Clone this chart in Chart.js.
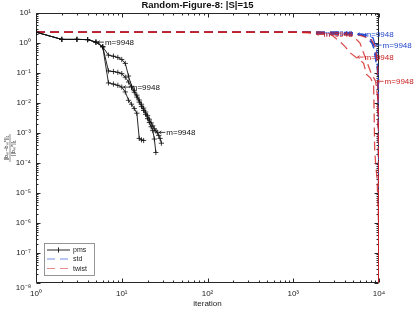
<!DOCTYPE html>
<html><head><meta charset="utf-8">
<script src="https://cdn.jsdelivr.net/npm/chart.js@4/dist/chart.umd.min.js"></script>
<style>html,body{margin:0;padding:0;background:#fff}canvas{display:block}</style>
</head><body>
<canvas id="c" width="415" height="309"></canvas>
<script>
const titleText = 'Random-Figure-8: |S|=15';
const xTitle = 'iteration';
const seriesNames = ['pms', 'std', 'twist'];
const xTickValues = [1, 10, 100, 1000, 10000];
const xTickLabels = ['10⁰', '10¹', '10²', '10³', '10⁴'];
const yTickValues = [1e-8, 1e-7, 1e-6, 1e-5, 1e-4, 1e-3, 1e-2, 1e-1, 1, 10];
const yTickLabels = ['10⁻⁸', '10⁻⁷', '10⁻⁶', '10⁻⁵', '10⁻⁴', '10⁻³', '10⁻²', '10⁻¹', '10⁰', '10¹'];

// pms runs (iteration 1..n)
const pmsIter = [1,2,3,4,5,6,7,8,9,10,11,12,13,14,15,16,17,18,19,20,21,22,23,24,25,26,27,28,29];
const pmsRunA = [2.3,1.32,1.32,1.3,1.07,0.75,0.394,0.363,0.331,0.282,0.209,0.0794,0.0363,0.0263,0.0182,0.0126,0.00912,0.00676,0.00501,0.0038,0.00288,0.00219,0.00174,0.00138,0.00117,0.00105,0.00083,0.00066,0.000457];
const pmsRunB = [2.3,1.32,1.32,1.3,1.07,0.75,0.117,0.112,0.105,0.0955,0.0724,0.0501,0.0339,0.0229,0.0158,0.0107,0.00759,0.00562,0.00417,0.00302,0.00224,0.00162,0.0012,0.00063,0.000224];
const pmsRunC = [2.3,1.32,1.32,1.3,1.07,0.75,0.0468,0.0427,0.0389,0.0339,0.0234,0.0123,0.00912,0.0066,0.00457,0.00066,0.000589,0.000562];

// std runs
const stdIterA = [1,10,100,1000,2000,3000,4000,5000,5330,6610,7400,8300,8650,9370,9630,9890,9948];
const stdRunA  = [2.3,2.3,2.3,2.3,2.3,2.3,2.28,2.2,2.0,1.75,1.45,0.95,0.68,0.18,0.14,0.01,1e-9];
const stdIterB = [1,10,100,1000,1500,1770,2500,4000,6000,7000,8000,8650,9300,9700,9890,9948];
const stdRunB  = [2.3,2.3,2.3,2.3,2.3,2.14,2.1,2.05,1.95,1.8,1.3,0.85,0.3,0.08,0.001,1e-9];
const stdIterC = [1,10,100,1000,3000,5000,7000,8500,9400,9800,9948];
const stdRunC  = [2.3,2.3,2.3,2.3,2.3,2.1,1.9,1.5,0.6,0.05,1e-9];

// twist runs
const twistIterA = [1,10,100,1000,2000,2700,3560,4075,4660,5330,6000,6610,7165,7980,8650,8800,8900,9125,9500,9890,9948];
const twistRunA  = [2.3,2.3,2.3,2.3,2.28,2.0,1.07,0.73,0.46,0.34,0.27,0.21,0.09,0.068,0.04,0.003,0.0003,0.0001,0.00003,0.000001,1e-9];
const twistIterB = [1,10,100,1000,2000,3000,4000,5000,6000,7000,7980,8650,9125,9630,9890,9948];
const twistRunB  = [2.3,2.3,2.3,2.3,2.3,2.25,2.1,1.7,1.0,0.3,0.11,0.07,0.053,0.016,0.0001,1e-9];
const twistIterC = [1,10,100,1000,1500,1770,2500,4000,6000,8000,9000,9600,9890,9948];
const twistRunC  = [2.3,2.3,2.3,2.3,2.2,1.99,1.95,1.9,1.8,1.4,0.8,0.2,0.001,1e-9];

// "m=9948" annotations, anchored at data points
const annText = 'm=9948';
const pmsAnnX = [5, 10, 26];
const pmsAnnY = [1.07, 0.0339, 0.00105];
const stdAnnX = [1770, 5330, 8650];
const stdAnnY = [2.14, 1.98, 0.85];
const twistAnnX = [1770, 5330, 9125];
const twistAnnY = [1.99, 0.34, 0.053];

const FONT = "'Liberation Sans', Arial, Helvetica, sans-serif";
const pmsColor = '#111111';
const stdColor = '#2a52d6';
const twistColor = 'rgba(212,30,30,0.78)';
const stdText = '#2448c8';
const twistText = '#c81e1e';

function pts(xs, ys) { return xs.map((v, i) => ({x: v, y: ys[i]})); }

const pmsStyle = {borderColor: pmsColor, backgroundColor: pmsColor, borderWidth: 0.9, pointStyle: 'cross',
  pointRadius: 2.6, pointBorderWidth: 0.8, pointHoverRadius: 0, order: 0, tension: 0};
const stdStyle = {borderColor: stdColor, borderWidth: 1.3, borderDash: [9, 5], pointRadius: 0, order: 2, tension: 0};
const twistStyle = {borderColor: twistColor, borderWidth: 1.3, borderDash: [9, 5], pointRadius: 0, order: 1, tension: 0};

const datasets = [
  Object.assign({label: seriesNames[0], data: pts(pmsIter, pmsRunA)}, pmsStyle),
  Object.assign({label: seriesNames[0], data: pts(pmsIter, pmsRunB)}, pmsStyle),
  Object.assign({label: seriesNames[0], data: pts(pmsIter, pmsRunC)}, pmsStyle),
  Object.assign({label: seriesNames[1], data: pts(stdIterA, stdRunA)}, stdStyle),
  Object.assign({label: seriesNames[1], data: pts(stdIterB, stdRunB)}, stdStyle),
  Object.assign({label: seriesNames[1], data: pts(stdIterC, stdRunC)}, stdStyle),
  Object.assign({label: seriesNames[2], data: pts(twistIterA, twistRunA)}, twistStyle),
  Object.assign({label: seriesNames[2], data: pts(twistIterB, twistRunB)}, twistStyle),
  Object.assign({label: seriesNames[2], data: pts(twistIterC, twistRunC)}, twistStyle),
];

function logList(min, max) {
  const out = [];
  for (let e = Math.floor(Math.log10(min)) - 1; e <= Math.ceil(Math.log10(max)); e++) {
    for (let m = 1; m < 10; m++) {
      const v = m * Math.pow(10, e);
      if (v >= min * 0.9999 && v <= max * 1.0001) out.push({v: v, major: m === 1});
    }
  }
  return out;
}

const framePlugin = {
  id: 'frame',
  beforeDatasetsDraw(chart) {
    const {ctx, chartArea: a, scales: {x, y}} = chart;
    ctx.save();
    ctx.strokeStyle = '#262626';
    ctx.lineWidth = 1;
    const L = Math.round(a.left) + 0.5, R = Math.round(a.right) - 0.5;
    const T = Math.round(a.top) + 0.5, B = Math.round(a.bottom) - 0.5;
    ctx.beginPath();
    ctx.rect(L, T, R - L, B - T);
    ctx.stroke();
    ctx.beginPath();
    for (const t of logList(x.min, x.max)) {
      const px = Math.round(x.getPixelForValue(t.v)) + 0.5;
      const len = t.major ? 4 : 2;
      ctx.moveTo(px, B); ctx.lineTo(px, B - len);
      ctx.moveTo(px, T); ctx.lineTo(px, T + len);
    }
    for (const t of logList(y.min, y.max)) {
      const py = Math.round(y.getPixelForValue(t.v)) + 0.5;
      const len = t.major ? 4 : 2;
      ctx.moveTo(L, py); ctx.lineTo(L + len, py);
      ctx.moveTo(R, py); ctx.lineTo(R - len, py);
    }
    ctx.stroke();
    ctx.restore();
  },
  afterDatasetsDraw(chart) {
    const {ctx, chartArea: a, scales: {x, y}} = chart;
    ctx.save();
    // annotations
    ctx.font = '8px ' + FONT;
    ctx.textBaseline = 'middle';
    ctx.textAlign = 'left';
    const groups = [[pmsAnnX, pmsAnnY, pmsColor], [stdAnnX, stdAnnY, stdText], [twistAnnX, twistAnnY, twistText]];
    for (const [xs, ys, col] of groups) {
      ctx.strokeStyle = col; ctx.fillStyle = col; ctx.lineWidth = 0.8;
      xs.forEach((xv, i) => {
        const px = x.getPixelForValue(xv), py = y.getPixelForValue(ys[i]);
        ctx.beginPath();
        ctx.moveTo(px + 2, py); ctx.lineTo(px + 8, py);
        ctx.moveTo(px + 2, py); ctx.lineTo(px + 4, py - 1.5);
        ctx.moveTo(px + 2, py); ctx.lineTo(px + 4, py + 1.5);
        ctx.stroke();
        ctx.fillText(annText, px + 9, py + 0.5);
      });
    }

    // legend
    const lx = a.left + 8, lb = a.bottom - 8, lw = 50, lh = 32, ly = lb - lh;
    ctx.fillStyle = '#fff';
    ctx.fillRect(lx, ly, lw, lh);
    ctx.strokeStyle = '#7a7a7a'; ctx.lineWidth = 0.8;
    ctx.strokeRect(Math.round(lx) + 0.5, Math.round(ly) + 0.5, lw, lh);
    ctx.font = '7px ' + FONT;
    const rows = [ly + 7, ly + 16, ly + 25.5];
    const styles = [pmsStyle, stdStyle, twistStyle];
    seriesNames.forEach((name, i) => {
      const st = styles[i], ry = rows[i];
      ctx.save();
      ctx.strokeStyle = st.borderColor;
      ctx.lineWidth = i === 0 ? 0.9 : 1.1;
      if (i > 0) { ctx.globalAlpha = 0.65; ctx.setLineDash([8, 5]); }
      ctx.beginPath(); ctx.moveTo(lx + 3, ry); ctx.lineTo(lx + 26, ry); ctx.stroke();
      if (i === 0) {
        ctx.setLineDash([]);
        ctx.beginPath();
        ctx.moveTo(lx + 14.5, ry - 2.6); ctx.lineTo(lx + 14.5, ry + 2.6);
        ctx.stroke();
      }
      ctx.restore();
      ctx.fillStyle = '#222';
      ctx.textBaseline = 'middle';
      ctx.fillText(name, lx + 29, ry + 0.5);
    });

    // y-axis title as fraction
    const cy = (a.top + a.bottom) / 2;
    ctx.translate(10, cy);
    ctx.rotate(-Math.PI / 2);
    ctx.fillStyle = '#222';
    ctx.strokeStyle = '#222';
    ctx.font = '5.5px ' + FONT;
    ctx.textAlign = 'center';
    ctx.textBaseline = 'middle';
    ctx.fillText('||bₘ−bₘ*||₁', 0, -3.2);
    ctx.fillText('||bₘ*||₁', 0, 3.4);
    ctx.lineWidth = 0.5;
    ctx.beginPath(); ctx.moveTo(-14, 0); ctx.lineTo(14, 0); ctx.stroke();
    ctx.restore();
  }
};

new Chart(document.getElementById('c'), {
  type: 'line',
  data: {datasets: datasets},
  plugins: [framePlugin],
  options: {
    responsive: false,
    animation: false,
    devicePixelRatio: 1,
    layout: {padding: {left: 0, right: 20, top: 0, bottom: 0}},
    plugins: {
      legend: {display: false},
      tooltip: {enabled: false},
      title: {display: true, text: titleText, color: '#111',
        font: {family: FONT, size: 9.5, weight: 'bold', lineHeight: 1.15}, padding: {top: 0, bottom: 2.1}}
    },
    scales: {
      x: {
        type: 'logarithmic', min: 1, max: 10000,
        grid: {display: false, drawTicks: false},
        border: {display: false},
        afterBuildTicks: s => { s.ticks = xTickValues.map(v => ({value: v})); },
        afterFit: s => { s.height = 26; },
        ticks: {autoSkip: false, maxRotation: 0, padding: 6, color: '#222',
          font: {family: FONT, size: 8}, callback: (v, i) => xTickLabels[i]},
        title: {display: true, text: xTitle, color: '#222', padding: {top: 0, bottom: 0},
          font: {family: FONT, size: 8, lineHeight: 1.2}}
      },
      y: {
        type: 'logarithmic', min: 1e-8, max: 10,
        grid: {display: false, drawTicks: false},
        border: {display: false},
        afterBuildTicks: s => { s.ticks = yTickValues.map(v => ({value: v})); },
        afterFit: s => { s.width = 36; },
        ticks: {autoSkip: false, padding: 5, color: '#222',
          font: {family: FONT, size: 8},
          callback: (v, i) => i === 0 ? ['', yTickLabels[i]] : yTickLabels[i]}
      },
      y2: {
        type: 'linear', position: 'right', display: true,
        grid: {display: false, drawTicks: false}, border: {display: false},
        ticks: {display: false},
        afterFit: s => { s.width = 16; }
      }
    }
  }
});
</script>
</body></html>
